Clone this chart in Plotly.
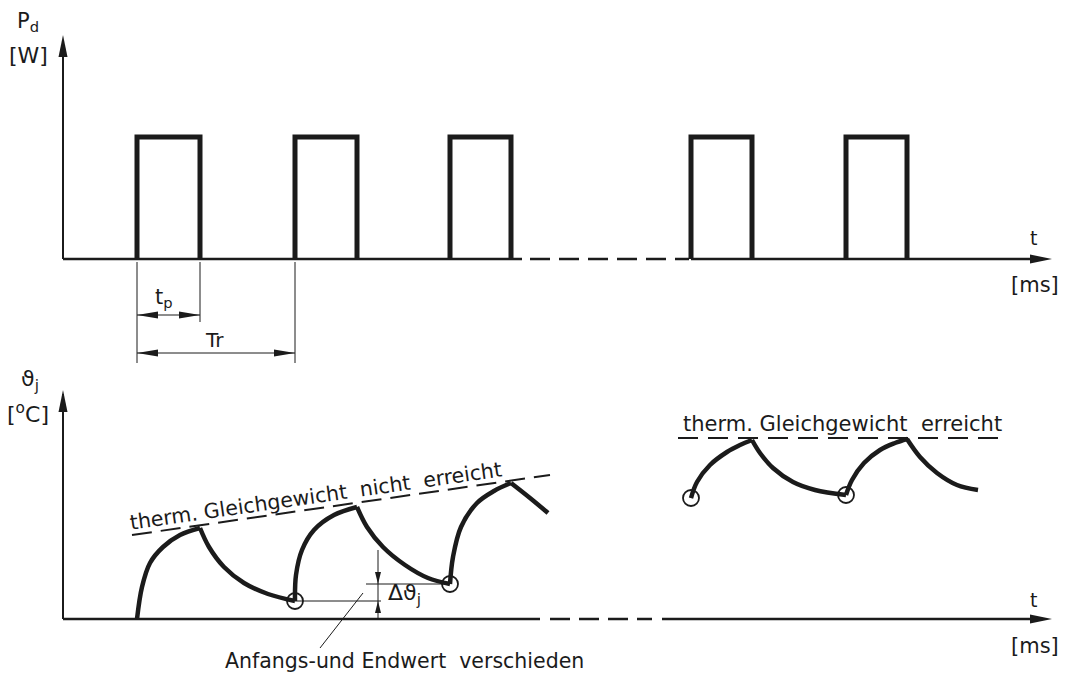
import plotly.graph_objects as go

# ---------------- data ----------------
# power pulses (time in ms, power in W)
pulse_start = [7.4, 23.2, 38.7, 62.8, 78.3]
pulse_end = [13.7, 29.4, 44.8, 68.9, 84.4]
pulse_power = 12.2

# time axis break (dashed part) in ms
top_break = [45.9, 62.6]
bottom_break = [47.7, 58.9]
axis_end = 98.9
p_axis_top = 22.4
T_axis_top = 114.5

# junction temperature, heating / cooling segments (t in ms, T in degC)
heat_1_t = [7.4, 7.9, 8.7, 10.0, 11.7, 13.7]
heat_1_T = [0, 16, 28, 36, 42, 45.5]
cool_1_t = [13.7, 14.6, 16.1, 18.1, 20.5, 23.2]
cool_1_T = [45.5, 36, 26, 18, 12.5, 9]
heat_2_t = [23.2, 23.3, 23.9, 25.1, 27.1, 29.4]
heat_2_T = [9, 22, 34.5, 44.5, 52, 56]
cool_2_t = [29.4, 30.4, 32.0, 34.2, 36.5, 38.7]
cool_2_T = [56, 46, 36, 27, 20.5, 17.5]
heat_3_t = [38.7, 39.0, 39.8, 41.4, 43.1, 44.8]
heat_3_T = [17.5, 31, 46, 58, 64, 68]
cool_3_t = [44.8, 46.7, 48.5]
cool_3_T = [68, 60.5, 53]

heat_4_t = [62.8, 63.4, 64.7, 66.4, 67.7, 68.9]
heat_4_T = [60.5, 68.5, 77, 83.5, 87, 89.5]
cool_4_t = [68.9, 69.7, 71.0, 73.0, 75.2, 78.3]
cool_4_T = [89.5, 83, 75.5, 68.5, 64.5, 62]
heat_5_t = [78.3, 78.9, 80.1, 81.7, 83.2, 84.4]
heat_5_T = [62, 69.5, 78, 84.5, 88, 90]
cool_5_t = [84.4, 85.7, 87.4, 89.4, 91.5]
cool_5_T = [90, 81, 73, 67, 64.5]

# start / end values of a period
mark_t = [23.2, 38.7, 62.8, 78.3]
mark_T = [9, 17.5, 60.5, 62]

# equilibrium envelopes
not_reached_t = [6.9, 48.7]
not_reached_T = [42, 72]
reached_t = [61.5, 94.4]
reached_T = [90.5, 90.5]

# difference of start values
delta_t = 31.5
delta_low_T = 9
delta_high_T = 17.5

INK = "#1b1b1b"
FONT = "DejaVu Sans"

fig = go.Figure()


def line(x, y, yaxis="y", width=2.0, dash="solid", shape="linear"):
    fig.add_trace(go.Scatter(
        x=x, y=y, yaxis=yaxis, mode="lines",
        line=dict(color=INK, width=width, dash=dash, shape=shape, smoothing=1.0),
        hoverinfo="skip", showlegend=False))


def head(x, y, yref, direction, length=20, width=9):
    h = width / 2
    paths = {
        "right": f"M0,0 L{-length},{h} L{-length},{-h} Z",
        "left": f"M0,0 L{length},{h} L{length},{-h} Z",
        "up": f"M0,0 L{-h},{-length} L{h},{-length} Z",
        "down": f"M0,0 L{-h},{length} L{h},{length} Z",
    }
    fig.add_shape(type="path", xref="x", yref=yref,
                  xsizemode="pixel", ysizemode="pixel",
                  xanchor=x, yanchor=y, path=paths[direction],
                  fillcolor=INK, line=dict(width=0), layer="above")


def text(x, y, s, yref="y", size=20, angle=0, xanchor="center", yanchor="middle"):
    fig.add_annotation(x=x, y=y, xref="x", yref=yref, text=s, showarrow=False,
                       textangle=angle, xanchor=xanchor, yanchor=yanchor,
                       font=dict(family=FONT, size=size, color=INK))


# ---------------- upper diagram: power ----------------
line([0, 0], [0, p_axis_top - 1], width=2)
head(0, p_axis_top, "y", "up", 22, 9)
line([0, top_break[0]], [0, 0], width=2.5)
line([top_break[0] + 0.8, top_break[1]], [0, 0], width=2.5, dash="20px,9px")
line([pulse_start[3], axis_end - 1], [0, 0], width=2.5)
head(axis_end, 0, "y", "right", 22, 9)

px, py = [], []
for s, e in zip(pulse_start, pulse_end):
    px += [s, s, e, e, None]
    py += [0, pulse_power, pulse_power, 0, None]
line(px, py, width=5)

# dimensioning tp and Tr
line([pulse_start[0], pulse_start[0]], [-0.3, -10.4], width=1)
line([pulse_end[0], pulse_end[0]], [-0.3, -6.3], width=1)
line([pulse_start[1], pulse_start[1]], [-0.3, -10.4], width=1)
line([pulse_start[0], pulse_end[0]], [-5.6, -5.6], width=1)
line([pulse_start[0], pulse_start[1]], [-9.4, -9.4], width=1)
head(pulse_start[0], -5.6, "y", "left", 21, 7)
head(pulse_end[0], -5.6, "y", "right", 21, 7)
head(pulse_start[0], -9.4, "y", "left", 21, 7)
head(pulse_start[1], -9.4, "y", "right", 21, 7)
text(10.1, -3.9, "t<sub>p</sub>", size=21)
text(15.1, -8.1, "Tr", size=20)

text(-3.5, 23.7, "P<sub>d</sub>", size=21)
text(-3.5, 20.4, "[W]", size=22)
text(97.0, 2.1, "t", size=19)
text(97.2, -2.6, "[ms]", size=21)

# ---------------- lower diagram: junction temperature ----------------
line([0, 0], [0, T_axis_top - 2], "y2", width=2)
head(0, T_axis_top, "y2", "up", 22, 9)
line([0, bottom_break[0]], [0, 0], "y2", width=2.5)
line([bottom_break[0] + 1.0, bottom_break[1]], [0, 0], "y2", width=2.5, dash="20px,9px")
line([bottom_break[1] + 1.0, axis_end - 1], [0, 0], "y2", width=2.5)
head(axis_end, 0, "y2", "right", 22, 9)

segments = [
    (heat_1_t, heat_1_T), (cool_1_t, cool_1_T),
    (heat_2_t, heat_2_T), (cool_2_t, cool_2_T),
    (heat_3_t, heat_3_T), (cool_3_t, cool_3_T),
    (heat_4_t, heat_4_T), (cool_4_t, cool_4_T),
    (heat_5_t, heat_5_T), (cool_5_t, cool_5_T),
]
for st, sT in segments:
    line(st, sT, "y2", width=4.5, shape="spline")

fig.add_trace(go.Scatter(
    x=mark_t, y=mark_T, yaxis="y2", mode="markers",
    marker=dict(symbol="circle-open", size=16, color=INK, line=dict(width=1.8, color=INK)),
    hoverinfo="skip", showlegend=False))

line(not_reached_t, not_reached_T, "y2", width=2, dash="20px,9px")
line(reached_t, reached_T, "y2", width=2, dash="20px,10px")

text(25.3, 61.5, "therm. Gleichgewicht\u00a0 nicht\u00a0 erreicht", "y2", size=20.5, angle=-8.2)
text(77.9, 97.5, "therm. Gleichgewicht\u00a0 erreicht", "y2", size=21)

# delta marking
line([delta_t, delta_t], [34.5, 0], "y2", width=1)
line([30.3, mark_t[1]], [delta_high_T, delta_high_T], "y2", width=1)
line([mark_t[0], 31.8], [delta_low_T, delta_low_T], "y2", width=1)
head(delta_t, delta_high_T, "y2", "down", 12, 6)
head(delta_t, delta_low_T, "y2", "up", 12, 6)
text(32.3, 12.5, "\u0394\u03d1<sub>j</sub>", "y2", size=22, xanchor="left")

line([30.0, 25.7], [13, -14.5], "y2", width=1)
text(34.1, -28.0, "Anfangs-und Endwert\u00a0 verschieden", "y2", size=20.5, yanchor="bottom")

text(-3.3, 119.5, "\u03d1<sub>j</sub>", "y2", size=22)
text(-3.5, 103, "[<sup>o</sup>C]", "y2", size=22)
text(97.0, 9.5, "t", "y2", size=19)
text(97.2, -13.5, "[ms]", "y2", size=21)

fig.update_layout(
    width=1073, height=676,
    margin=dict(l=0, r=0, t=0, b=0),
    paper_bgcolor="white", plot_bgcolor="white",
    xaxis=dict(range=[-6.3, 101.0], visible=False, fixedrange=True),
    yaxis=dict(range=[-41.7, 25.9], visible=False, fixedrange=True),
    yaxis2=dict(range=[-28.5, 309.5], visible=False, overlaying="y", fixedrange=True),
    showlegend=False,
)

fig.write_html("out.html")
